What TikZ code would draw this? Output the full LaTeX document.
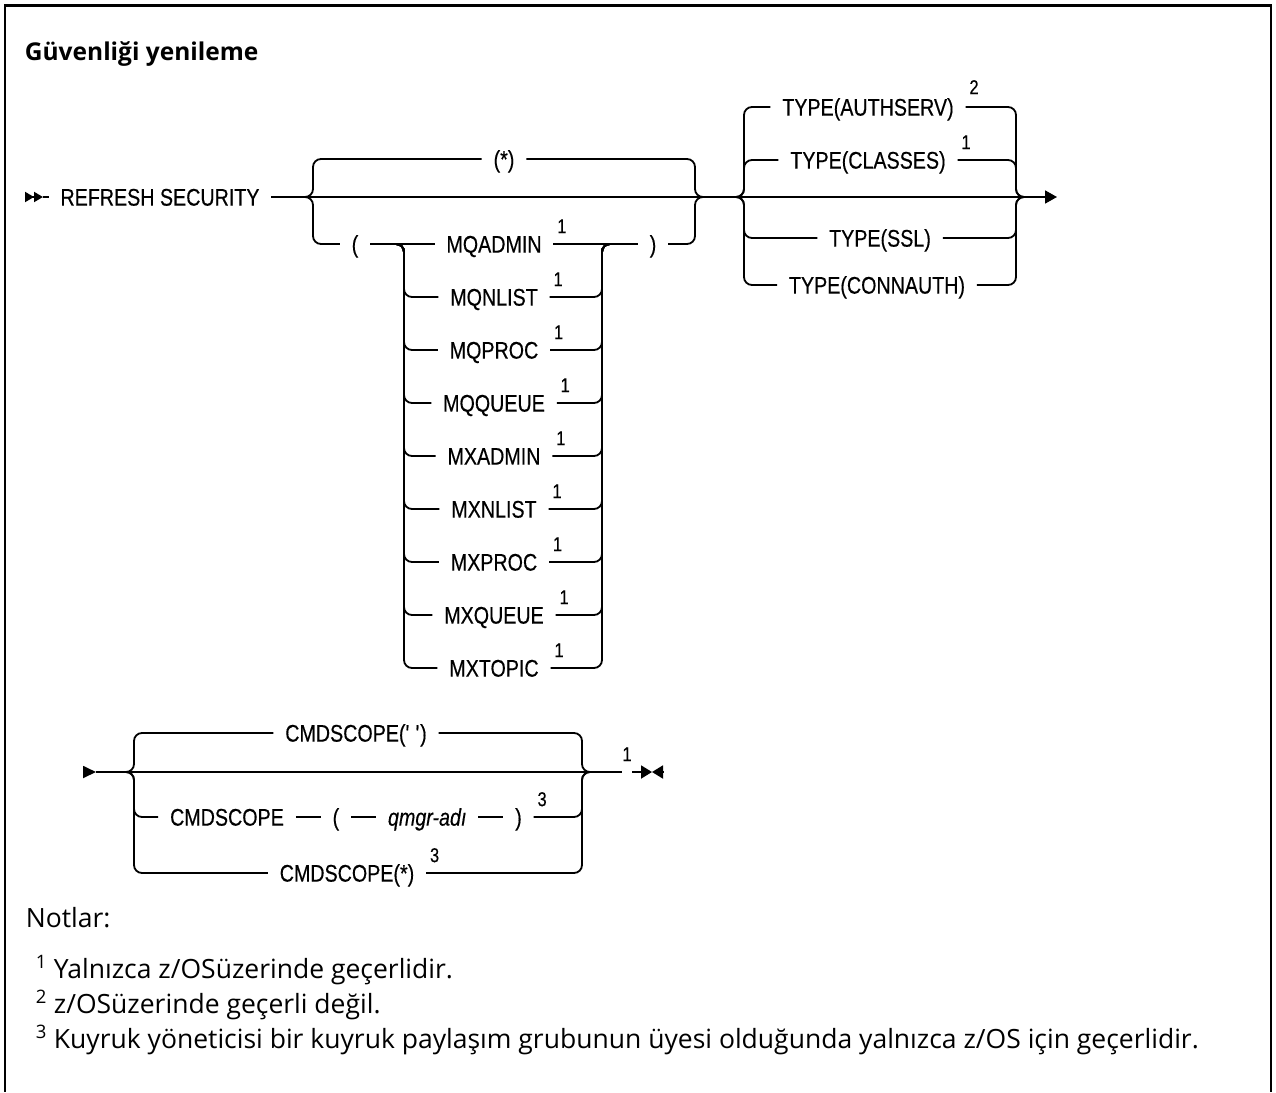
\documentclass[tikz,border=0pt]{standalone}
\usepackage{fontspec}
\setmainfont{Open Sans}
\newfontfamily\railfont[FakeStretch=0.82,FakeBold=0.4]{Liberation Sans}
\usetikzlibrary{positioning,arrows.meta}

\begin{document}
\begin{tikzpicture}[x=1pt,y=-1pt,line width=1.8pt,
   lbl/.style={font=\railfont\fontsize{24}{28}\selectfont,inner xsep=11pt,inner ysep=0pt,text height=17.2pt,text depth=0pt},
   sup/.style={font=\railfont\fontsize{20}{24}\selectfont,inner sep=0pt,text depth=0pt},
   note/.style={anchor=base west,inner sep=0pt,font=\fontsize{26.5}{32}\selectfont},
   rail/.style={rounded corners=8pt},
   stoptip/.style={-{Triangle[length=12pt,width=13pt]}}]

   \useasboundingbox (0,0) rectangle (1276,1092);
   \draw[line width=3pt] (4,5) -- (1272,5);
   \draw[line width=2pt] (5,4) -- (5,1092);
   \draw[line width=2pt] (1271,4) -- (1271,1092);

   \path (24,60) node[anchor=base west,inner sep=0pt,font=\bfseries\fontsize{24.5}{28}\selectfont] (title) {Güvenliği yenileme};

     \coordinate (dstart) at (25,197);
     \coordinate (dend) at (43,197);
     \coordinate (g1l) at (313,197);
     \coordinate (g1r) at (695,197);
     \coordinate (il) at (404,244);
     \coordinate (ir) at (602,244);
     \coordinate (g2l) at (744,197);
     \coordinate (g2r) at (1016,197);
     \coordinate (g2out) at (1035,197);
     \coordinate (stop) at (1057,197);

     \path (160,197) node[lbl] (refresh) {REFRESH SECURITY};
     \path (504,159) node[lbl] (star) {(*)};
     \path (355,244) node[lbl] (lp) {(};
     \path (653,244) node[lbl] (rp) {)};

     \path (494,244) node[lbl] (mqadmin) {MQADMIN};
     \path (494,297) node[lbl] (mqnlist) {MQNLIST};
     \path (494,350) node[lbl] (mqproc) {MQPROC};
     \path (494,403) node[lbl] (mqqueue) {MQQUEUE};
     \path (494,456) node[lbl] (mxadmin) {MXADMIN};
     \path (494,509) node[lbl] (mxnlist) {MXNLIST};
     \path (494,562) node[lbl] (mxproc) {MXPROC};
     \path (494,615) node[lbl] (mxqueue) {MXQUEUE};
     \path (494,668) node[lbl] (mxtopic) {MXTOPIC};

     \node[sup,above right=10pt and 3pt of mqadmin.east] (n-mqadmin) {1};
     \node[sup,above right=10pt and 3pt of mqnlist.east] (n-mqnlist) {1};
     \node[sup,above right=10pt and 3pt of mqproc.east] (n-mqproc) {1};
     \node[sup,above right=10pt and 3pt of mqqueue.east] (n-mqqueue) {1};
     \node[sup,above right=10pt and 3pt of mxadmin.east] (n-mxadmin) {1};
     \node[sup,above right=10pt and 3pt of mxnlist.east] (n-mxnlist) {1};
     \node[sup,above right=10pt and 3pt of mxproc.east] (n-mxproc) {1};
     \node[sup,above right=10pt and 3pt of mxqueue.east] (n-mxqueue) {1};
     \node[sup,above right=10pt and 3pt of mxtopic.east] (n-mxtopic) {1};

     \path (868,107) node[lbl] (authserv) {TYPE(AUTHSERV)};
     \path (868,160) node[lbl] (classes) {TYPE(CLASSES)};
     \path (880,238) node[lbl] (ssl) {TYPE(SSL)};
     \path (877,285) node[lbl] (connauth) {TYPE(CONNAUTH)};
     \node[sup,above right=12pt and 3pt of authserv.east] (n-authserv) {2};
     \node[sup,above right=10pt and 3pt of classes.east] (n-classes) {1};

     \draw[-{Triangle[length=9pt,width=10pt]Triangle[length=9pt,width=10pt]}] (dstart) -- (dend);
     \draw (dend) -- (refresh);
     \draw[stoptip] (refresh) -- (stop);

     \draw[rail] (refresh) -- (g1l) -- (g1l |- star) -- (star);
     \draw[rail] (star) -- (g1r |- star) -- (g1r) -- (g2l);
     \draw[rail] (refresh) -- (g1l) -- (g1l |- lp) -- (lp);
     \draw (lp) -- (mqadmin);
     \draw (mqadmin) -- (rp);
     \draw[rail] (rp) -- (g1r |- rp) -- (g1r) -- (g2l);

     \draw[rail] (lp) -- (il) -- (il |- mqnlist) -- (mqnlist);
     \draw[rail] (lp) -- (il) -- (il |- mqproc) -- (mqproc);
     \draw[rail] (lp) -- (il) -- (il |- mqqueue) -- (mqqueue);
     \draw[rail] (lp) -- (il) -- (il |- mxadmin) -- (mxadmin);
     \draw[rail] (lp) -- (il) -- (il |- mxnlist) -- (mxnlist);
     \draw[rail] (lp) -- (il) -- (il |- mxproc) -- (mxproc);
     \draw[rail] (lp) -- (il) -- (il |- mxqueue) -- (mxqueue);
     \draw[rail] (lp) -- (il) -- (il |- mxtopic) -- (mxtopic);
     \draw[rail] (mqnlist) -- (ir |- mqnlist) -- (ir) -- (rp);
     \draw[rail] (mqproc) -- (ir |- mqproc) -- (ir) -- (rp);
     \draw[rail] (mqqueue) -- (ir |- mqqueue) -- (ir) -- (rp);
     \draw[rail] (mxadmin) -- (ir |- mxadmin) -- (ir) -- (rp);
     \draw[rail] (mxnlist) -- (ir |- mxnlist) -- (ir) -- (rp);
     \draw[rail] (mxproc) -- (ir |- mxproc) -- (ir) -- (rp);
     \draw[rail] (mxqueue) -- (ir |- mxqueue) -- (ir) -- (rp);
     \draw[rail] (mxtopic) -- (ir |- mxtopic) -- (ir) -- (rp);

     \draw[rail] (g1r) -- (g2l) -- (g2l |- authserv) -- (authserv);
     \draw[rail] (authserv) -- (g2r |- authserv) -- (g2r) -- (g2out);
     \draw[rail] (g1r) -- (g2l) -- (g2l |- classes) -- (classes);
     \draw[rail] (classes) -- (g2r |- classes) -- (g2r) -- (g2out);
     \draw[rail] (g1r) -- (g2l) -- (g2l |- ssl) -- (ssl);
     \draw[rail] (ssl) -- (g2r |- ssl) -- (g2r) -- (g2out);
     \draw[rail] (g1r) -- (g2l) -- (g2l |- connauth) -- (connauth);
     \draw[rail] (connauth) -- (g2r |- connauth) -- (g2r) -- (g2out);

     \coordinate (s2a) at (83,772);
     \coordinate (s2b) at (96,772);
     \coordinate (g3l) at (134,772);
     \coordinate (g3r) at (582,772);
     \coordinate (bow) at (652,772);
     \coordinate (bowr) at (663,772);

     \path (356,733) node[lbl] (blank) {CMDSCOPE(\textquotesingle\ \textquotesingle)};
     \path (227,817) node[lbl] (cmd) {CMDSCOPE};
     \node[lbl,right=25pt of cmd] (lp2) {(};
     \node[lbl,right=25pt of lp2,font=\railfont\fontsize{24}{28}\selectfont\itshape] (qmgr) {qmgr-adı};
     \node[lbl,right=25pt of qmgr] (rp2) {)};
     \path (347,873) node[lbl] (all) {CMDSCOPE(*)};
     \node[sup,above right=10pt and 3pt of rp2.east] (n-rp2) {3};
     \node[sup,above right=10pt and 3pt of all.east] (n-all) {3};
     \path (627,762) node[sup,anchor=south] (n-end) {1};
     \coordinate (g3out) at (n-end.south west |- g3l);
     \coordinate (bowl) at (n-end.south east |- g3l);

     \draw[-{Triangle[length=13pt,width=12pt]}] (s2a) -- (s2b);
     \draw (s2b) -- (g3out);
     \draw[-{Triangle[length=11pt,width=13pt]}] (bowl) -- (bow);
     \draw[-{Triangle[length=11pt,width=13pt]}] (bowr) -- (bow);

     \draw[rail] (s2b) -- (g3l) -- (g3l |- blank) -- (blank);
     \draw[rail] (blank) -- (g3r |- blank) -- (g3r) -- (g3out);
     \draw[rail] (s2b) -- (g3l) -- (g3l |- cmd) -- (cmd);
     \draw (cmd) -- (lp2);
     \draw (lp2) -- (qmgr);
     \draw (qmgr) -- (rp2);
     \draw[rail] (rp2) -- (g3r |- rp2) -- (g3r) -- (g3out);
     \draw[rail] (s2b) -- (g3l) -- (g3l |- all) -- (all);
     \draw[rail] (all) -- (g3r |- all) -- (g3r) -- (g3out);

   \path (25,927) node[note] (notes) {Notlar:};
   \path (35,978) node[note] (note1) {\textsuperscript{1} Yalnızca z/OSüzerinde geçerlidir.};
   \path (35,1013) node[note] (note2) {\textsuperscript{2} z/OSüzerinde geçerli değil.};
   \path (35,1048) node[note] (note3) {\textsuperscript{3} Kuyruk yöneticisi bir kuyruk paylaşım grubunun üyesi olduğunda yalnızca z/OS için geçerlidir.};

\end{tikzpicture}
\end{document}
